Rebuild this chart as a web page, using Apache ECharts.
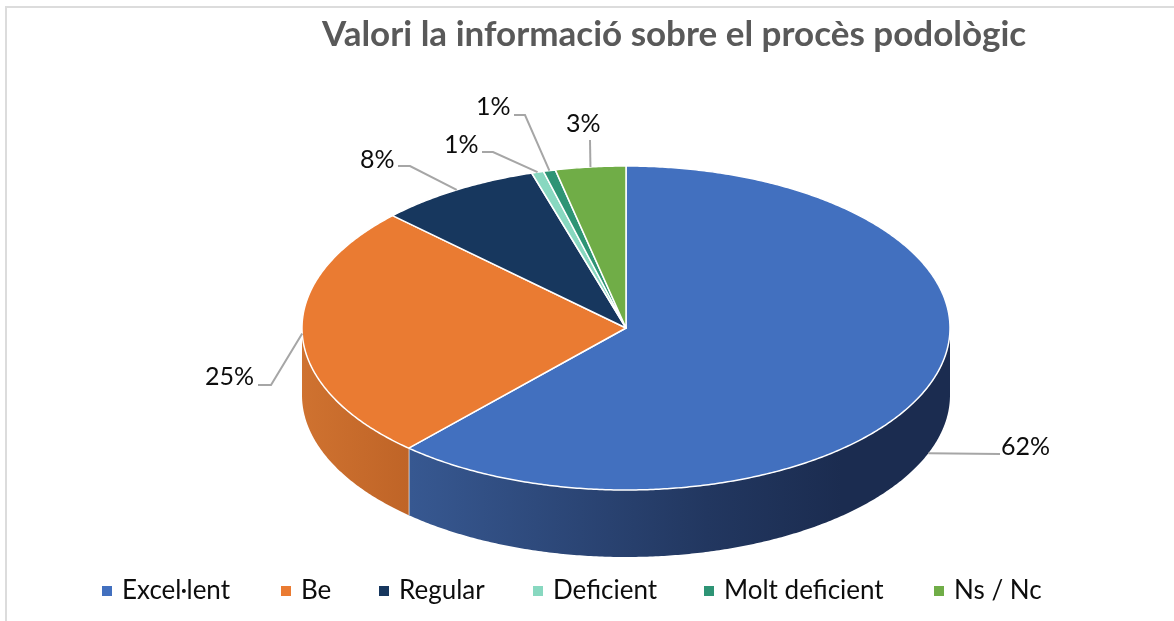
<!DOCTYPE html>
<html>
<head>
<meta charset="utf-8">
<style>html,body{margin:0;padding:0;background:#fff}#c{width:1174px;height:621px}</style>
<script src="https://cdn.jsdelivr.net/npm/echarts@6/dist/echarts.min.js"></script>
</head>
<body>
<div id="c"></div>
<script>
// ---- data ----
const titleText = 'Valori la informació sobre el procès podològic';
const categories = ['Excel·lent', 'Be', 'Regular', 'Deficient', 'Molt deficient', 'Ns / Nc'];
const sliceShares = [61.7, 25.5, 8.1, 0.6, 0.6, 3.5];
const percentLabels = ['62%', '25%', '8%', '1%', '1%', '3%'];

// ---- styling / layout ----
const colors = ['#4270bf', '#ea7b32', '#17375e', '#88d8c0', '#2e9475', '#70ad47'];
const wallStops = [
  [[0, '#375891'], [0.55, '#223760'], [0.8, '#1b2c50'], [1, '#1b2c50']],
  [[0, '#cf7230'], [1, '#bf6427']]
];
const wallSpan = [[410, 950], [302, 410]];
const legendLeft = [102, 281, 379, 533, 704, 934];
const leaders = [
  { elbow: null, end: [1000, 454], text: [1001, 447], onWall: true },
  { elbow: [271, 385], end: [258, 385], text: [205, 377] },
  { elbow: [410, 166], end: [398, 166], text: [360, 160] },
  { elbow: [493, 152], end: [482, 152], text: [444, 145] },
  { elbow: [525, 115], end: [514, 115], text: [476, 107] },
  { elbow: null, end: [590, 140], text: [566, 124] }
];
const CX = 626, CY = 328, RX = 324, RY = 162, DEPTH = 67;
const FONT = 'Lato, "Noto Sans", sans-serif';

const total = sliceShares.reduce((a, b) => a + b, 0);
function rim(deg, dy) {
  const t = deg * Math.PI / 180;
  return [CX + RX * Math.sin(t), CY - RY * Math.cos(t) + (dy || 0)];
}
function arc(a, b, dy) {
  const pts = [], n = Math.max(2, Math.ceil(Math.abs(b - a) * 2));
  for (let i = 0; i <= n; i++) pts.push(rim(a + (b - a) * i / n, dy));
  return pts;
}
function renderSlice(params, api) {
  const i = params.seriesIndex;
  let before = 0;
  for (let k = 0; k < i; k++) before += sliceShares[k];
  const a = before / total * 360;
  const b = (before + api.value(0)) / total * 360;
  const children = [];
  // side wall: only the front half of the ellipse is visible
  const wa = Math.max(a, 90), wb = Math.min(b, 270);
  if (wb > wa) {
    const top = arc(wa, wb, 0), bottom = arc(wb, wa, DEPTH);
    const span = wallSpan[i] || [CX - RX, CX + RX];
    children.push({
      type: 'polygon',
      shape: { points: top.concat(bottom) },
      style: {
        fill: {
          type: 'linear', global: true, x: span[0], y: 0, x2: span[1], y2: 0,
          colorStops: (wallStops[i] || [[0, colors[i]], [1, colors[i]]]).map(s => ({ offset: s[0], color: s[1] }))
        }
      }
    });
    if (wb < 270) {
      const p = rim(wb, 0);
      children.push({ type: 'line', shape: { x1: p[0], y1: p[1], x2: p[0], y2: p[1] + DEPTH },
        style: { stroke: '#f2f2f2', lineWidth: 1.5 } });
    }
  }
  // top face
  children.push({
    type: 'polygon',
    shape: { points: [[CX, CY]].concat(arc(a, b, 0)) },
    style: { fill: colors[i], stroke: '#ffffff', lineWidth: 1.5, lineJoin: 'round' }
  });
  // leader + label
  const lead = leaders[i];
  const mid = (a + b) / 2;
  const start = rim(mid, lead.onWall ? DEPTH : 0);
  const pts = [start];
  if (lead.elbow) pts.push(lead.elbow);
  pts.push(lead.end);
  children.push({ type: 'polyline', shape: { points: pts },
    style: { stroke: '#a6a6a6', lineWidth: 2, fill: null } });
  children.push({ type: 'text', style: {
    text: percentLabels[i], x: lead.text[0], y: lead.text[1],
    fill: '#0d0d0d', font: '25px ' + FONT, textAlign: 'left', textVerticalAlign: 'middle'
  } });
  return { type: 'group', children };
}

const chart = echarts.init(document.getElementById('c'), null, { renderer: 'canvas' });
chart.setOption({
  animation: false,
  backgroundColor: '#ffffff',
  title: {
    text: titleText, left: 317, top: 12,
    textStyle: { color: '#595959', fontFamily: FONT, fontWeight: 'bold', fontSize: 35 }
  },
  legend: categories.map((name, i) => ({
    data: [name], left: legendLeft[i], top: 578, orient: 'horizontal', padding: 0,
    icon: 'rect', itemWidth: 10, itemHeight: 10, itemGap: 0, selectedMode: false,
    textStyle: { color: '#0d0d0d', fontFamily: FONT, fontSize: 26, padding: [0, 0, 0, 5] }
  })),
  graphic: [{
    type: 'rect', silent: true, z: -1,
    shape: { x: 6, y: 7, width: 1300, height: 800 },
    style: { fill: 'none', stroke: '#dcdcdc', lineWidth: 2 }
  }],
  series: categories.map((name, i) => ({
    type: 'custom', name, coordinateSystem: 'none',
    itemStyle: { color: colors[i] },
    data: [[sliceShares[i]]],
    renderItem: renderSlice,
    silent: true
  }))
});
</script>
</body>
</html>
